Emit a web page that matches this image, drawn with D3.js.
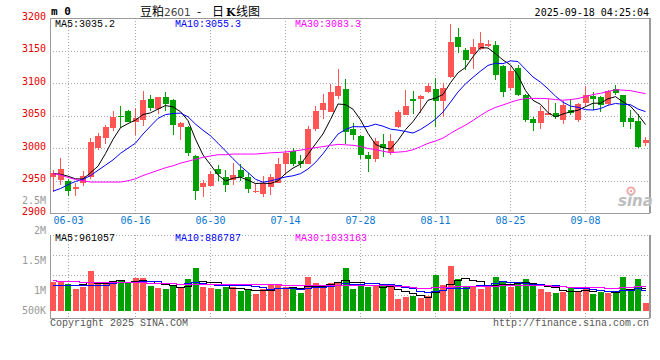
<!DOCTYPE html>
<html><head><meta charset="utf-8">
<script src="https://cdn.jsdelivr.net/npm/d3@7/dist/d3.min.js"></script>
<style>
html,body{margin:0;padding:0;background:#fff;}
svg{display:block;}
text{font-family:"DejaVu Sans Mono",monospace;font-size:10px;}
</style></head><body>
<svg id="chart" width="660" height="360"></svg>
<script>
// ---------------- DATA ----------------
const dates = ["05-29","05-30","06-03","06-04","06-05","06-06","06-09","06-10","06-11","06-12","06-13",
"06-16","06-17","06-18","06-19","06-20","06-23","06-24","06-25","06-26","06-27","06-30",
"07-01","07-02","07-03","07-04","07-07","07-08","07-09","07-10","07-11","07-14","07-15","07-16","07-17","07-18",
"07-21","07-22","07-23","07-24","07-25","07-28","07-29","07-30","07-31","08-01","08-04","08-05","08-06","08-07","08-08",
"08-11","08-12","08-13","08-14","08-15","08-18","08-19","08-20","08-21","08-22","08-25","08-26","08-27","08-28","08-29",
"09-01","09-02","09-03","09-04","09-05","09-08","09-09","09-10","09-11","09-12","09-15","09-16","09-17","09-18"];

const open = [2955,2951,2950,2938,2947,2956,3001,3015,3031,3050,3057,3040,3043,3075,3060,3078,3074,3032,3032,2988,
2940,2942,2968,2955,2951,2967,2955,2932,2930,2941,2947,2975,2996,2981,2976,3030,3059,3056,3080,3091,
3030,3018,2990,2983,3007,2992,3032,3051,3076,3076,3086,3091,3072,3110,3171,3151,3145,3153,3157,3159,
3127,3092,3123,3082,3045,3039,3051,3054,3044,3059,3043,3070,3080,3078,3068,3091,3081,3047,3042,3008];
const high = [2967,2985,2952,2946,2965,3016,3024,3036,3057,3065,3058,3061,3088,3082,3079,3087,3076,3040,3034,2989,
2951,2965,2974,2967,2978,2976,2962,2947,2957,2961,2985,2995,3001,2990,3034,3065,3083,3098,3122,3107,
3039,3021,2994,3016,3022,3022,3058,3090,3088,3081,3100,3108,3100,3191,3185,3154,3168,3179,3166,3164,
3128,3125,3128,3083,3048,3065,3075,3070,3073,3076,3069,3096,3087,3080,3090,3097,3082,3059,3052,3017];
const low = [2932,2944,2927,2926,2942,2953,2998,3006,3026,3031,3040,3020,3034,3057,3052,3057,3021,3012,2988,2920,
2925,2942,2950,2933,2943,2950,2931,2931,2925,2928,2946,2959,2972,2969,2975,3026,3045,3055,3076,3006,
3012,2983,2963,2979,2987,2990,3031,3051,3052,3054,3085,3033,3048,3108,3147,3120,3121,3151,3156,3104,
3078,3089,3080,3040,3026,3030,3051,3045,3037,3051,3041,3064,3059,3055,3067,3082,3032,3029,3000,3003];
const close = [2962,2968,2934,2940,2958,3010,3019,3032,3048,3048,3041,3046,3074,3061,3078,3068,3036,3038,2992,2935,
2947,2961,2960,2943,2959,2955,2938,2934,2947,2955,2976,2993,2976,2976,3030,3057,3070,3087,3096,3025,
3021,2989,2983,3011,3000,3011,3056,3065,3072,3080,3095,3073,3092,3163,3156,3136,3156,3161,3160,3113,
3087,3118,3081,3044,3038,3057,3054,3048,3067,3054,3068,3082,3075,3067,3088,3085,3041,3041,3002,3013];

const ma5 = [2961,2960,2957,2953,2952.6,2962.2,2972.4,2991.8,3013.5,3031.5,3037.8,3043.2,3051.7,3054.3,3060.1,3065.5,3063.5,3056.1,3042.4,3013.9,
2989.6,2974.6,2959.0,2949.3,2953.9,2955.5,2950.8,2945.7,2946.4,2945.6,2950.0,2961.0,2969.5,2975.4,2990.5,3006.5,3022.0,3044.1,3067.9,3066.9,
3059.9,3043.6,3022.8,3005.8,3000.8,2998.6,3012.0,3028.5,3040.9,3056.8,3073.7,3077.1,3082.4,3100.6,3115.9,3124.0,3140.6,3154.5,3153.9,3145.2,
3135.5,3127.8,3111.8,3088.5,3073.5,3067.4,3054.7,3048.0,3052.6,3055.9,3058.3,3063.8,3069.1,3069.1,3075.9,3079.2,3071.1,3064.5,3051.4,3036.4];
const ma10 = [2934,2938,2944,2949,2952,2958,2966,2974,2982,2992.1,3000.0,3007.8,3021.8,3033.9,3045.8,3051.6,3053.3,3053.9,3048.3,3037.0,
3027.6,3019.0,3007.6,2995.8,2983.9,2972.5,2962.7,2952.3,2947.8,2949.8,2952.7,2955.9,2957.6,2960.9,2968.0,2978.2,2991.5,3006.8,3021.7,3028.7,
3033.2,3032.8,3033.4,3036.9,3033.8,3029.3,3027.8,3025.7,3023.3,3028.8,3036.1,3044.6,3055.5,3070.7,3086.4,3098.9,3108.9,3118.4,3127.2,3130.5,
3129.8,3134.2,3133.1,3121.2,3109.4,3101.4,3091.2,3079.9,3070.6,3064.7,3062.8,3059.2,3058.6,3060.9,3065.9,3068.7,3067.4,3066.8,3060.2,3056.2];
const ma30 = [2961,2959,2955,2952,2950,2948,2948,2948,2948,2948,2950,2953,2958,2962,2966,2970,2973,2977,2980,2983,
2986,2988,2990,2990,2991,2991,2991,2991,2992,2992.9,2993.4,2994.2,2995.6,2996.9,2999.3,3000.8,3002.5,3004.3,3005.9,3005.2,
3004.5,3002.6,2999.5,2997.9,2995.3,2993.3,2994.0,2994.9,2997.6,3002.4,3007.4,3011.1,3015.5,3022.8,3029.4,3035.4,3042.7,3050.3,3057.4,3062.7,
3066.4,3070.5,3074.0,3076.3,3076.5,3076.5,3076.0,3074.7,3073.7,3074.7,3076.2,3079.3,3082.4,3084.3,3087.2,3089.7,3089.2,3088.4,3086.0,3083.8];

const volume = [1223000,1265000,1126000,917000,1001000,1668000,1154000,1112000,1251000,1293000,
1182000,1376000,1376000,1043000,959000,917000,1098000,945000,1334000,1807000,
1001000,959000,917000,1015000,987000,834000,917000,723000,904000,1084000,
1084000,1015000,917000,751000,1418000,1168000,1043000,1168000,1168000,1807000,
917000,1056000,987000,1043000,1084000,987000,500000,598000,639000,556000,
626000,1501000,1084000,1890000,1334000,1043000,1043000,917000,987000,1418000,
1251000,1015000,1126000,1334000,1126000,917000,800000,760000,800000,965000,
790000,1001000,715000,805000,765000,765000,1425000,910000,1334000,346000];
const volMa5 = [1090,1090,1100,1100,1106,1195,1173,1170,1237,1296,1198,1243,1296,1254,1187,1134,1079,992,1051,1220,
1237,1209,1204,1140,976,942,934,895,873,892,942,962,1001,970,1037,1054,1059,1110,1193,1271,
1221,1223,1187,1162,1017,1031,920,842,762,656,584,784,881,1131,1287,1370,1279,1245,1065,1082,
1123,1118,1159,1229,1170,1104,1061,987,881,848,823,863,854,855,815,810,895,934,1040,956].map(v => v * 1000);
const volMa10 = [1080,1080,1080,1080,1080,1080,1080,1090,1150,1201,1197,1208,1233,1246,1241,1166,1161,1144,1152,1204,
1186,1144,1098,1095,1098,1090,1072,1049,1006,934,942,948,948,922,965,998,1011,1055,1082,1154,
1137,1141,1148,1178,1144,1126,1072,1015,962,837,808,852,862,947,972,977,1031,1063,1098,1184,
1247,1198,1202,1147,1126,1113,1089,1073,1055,1009,963,962,921,868,832,817,879,894,948,886].map(v => v * 1000);
const volMa30 = [1300,1260,1240,1230,1225,1222,1220,1215,1210,1205,1200,1195,1190,1180,1170,1160,1150,1145,1140,1140,
1135,1130,1128,1125,1122,1120,1118,1116,1115,1113,1108,1100,1093,1087,1101,1085,1081,1083,1080,1097,
1088,1078,1065,1065,1069,1071,1051,1040,1017,975,962,980,986,1015,1027,1034,1038,1044,1047,1058,
1064,1064,1071,1090,1081,1072,1064,1050,1038,1010,1006,1004,995,987,976,969,1000,1010,1033,1026].map(v => v * 1000);

const dateTicks = ["06-03","06-16","06-30","07-14","07-28","08-11","08-25","09-08"];
const priceTicks = [3200,3150,3100,3050,3000,2950,2900];
const priceGrid = [3150,3100,3050,3000,2950];
const volTicks = [2500000,2000000,1500000,1000000,500000];
const volTickLabels = ["2.5M","2M","1.5M","1M","500K"];
const priceLegend = ["MA5:3035.2","MA10:3055.3","MA30:3083.3"];
const volLegend = ["MA5:961057","MA10:886787","MA30:1033163"];
const legendColors = ["#000000","#0000ff","#ff00ff"];

// ---------------- LAYOUT ----------------
const L = 50, R = 648.5;
const mainTop = 18, mainBot = 213.3;
const volTop = 235, volBot = 318, volZero = 311;
const UP = "#ff5555", DOWN = "#00a000";
const GRID = "#a8a8a8", BORDER = "#9a9a9a";

const svg = d3.select("#chart");
const n = dates.length;
const idx = d3.range(n);

const x = d3.scaleBand().domain(dates).range([L, R]).paddingInner(0.2).paddingOuter(0);
const bw = x.bandwidth();
const cx = i => Math.floor(x(dates[i]) + bw / 2) + 0.5;
const y = d3.scaleLinear().domain([2900, 3200]).range([mainBot, mainTop]);
const yv = d3.scaleLinear().domain([0, 1000000]).range([volZero, volZero - 24]);
const yvLabel = d3.scaleLinear().domain([1000000, 2500000]).range([294, 203.5]);

// ---------------- GRIDS ----------------
const grid = svg.append("g").attr("shape-rendering", "crispEdges")
  .attr("stroke", GRID).attr("stroke-dasharray", "1,2");
grid.selectAll("line.h").data(priceGrid).join("line")
  .attr("x1", L).attr("x2", R).attr("y1", d => Math.round(y(d)) + 0.5).attr("y2", d => Math.round(y(d)) + 0.5);
grid.selectAll("line.v").data(dateTicks).join("line")
  .attr("x1", d => cx(dates.indexOf(d))).attr("x2", d => cx(dates.indexOf(d)))
  .attr("y1", mainTop).attr("y2", mainBot);
grid.selectAll("line.vv").data(dateTicks).join("line")
  .attr("x1", d => cx(dates.indexOf(d))).attr("x2", d => cx(dates.indexOf(d)))
  .attr("y1", volTop).attr("y2", volBot);
grid.selectAll("line.hv").data([0, 1, 2, 3]).join("line")
  .attr("x1", L).attr("x2", R)
  .attr("y1", k => volTop + k * 20 + 0.5).attr("y2", k => volTop + k * 20 + 0.5);

// borders
const bd = svg.append("g").attr("shape-rendering", "crispEdges").attr("stroke", BORDER).attr("fill", "none");
bd.append("path").attr("d", `M${L + 0.5},${mainTop} V${mainBot + 0.5} H${R + 1} V${mainTop} H${L}`);
bd.append("path").attr("d", `M${L + 0.5},${volTop} V${volBot + 0.5} H${R + 1} V${volTop}`);
bd.append("line").attr("x1", R + 1).attr("x2", R + 1).attr("y1", mainTop).attr("y2", mainBot).attr("stroke-width", 2);
bd.append("line").attr("x1", R + 1).attr("x2", R + 1).attr("y1", volTop).attr("y2", volBot).attr("stroke-width", 2);

// ---------------- WATERMARK ----------------
const wm = svg.append("g");
wm.append("circle").attr("cx", 631).attr("cy", 191).attr("r", 3.6)
  .attr("fill", "none").attr("stroke", "#f4a8a8").attr("stroke-width", 2);
wm.append("circle").attr("cx", 631).attr("cy", 191).attr("r", 1).attr("fill", "#e88");
wm.append("text").attr("x", 618).attr("y", 206).text("sina")
  .style("font-family", "DejaVu Sans").style("font-size", "15px").style("font-style", "italic")
  .style("font-weight", "bold").attr("fill", "#bdbdbd");

// ---------------- CANDLES ----------------
const isUp = i => close[i] >= open[i];
const cg = svg.append("g").attr("shape-rendering", "crispEdges");
cg.selectAll("line.wick").data(idx).join("line")
  .attr("x1", cx).attr("x2", cx)
  .attr("y1", i => y(high[i])).attr("y2", i => y(low[i]))
  .attr("stroke", i => isUp(i) ? UP : DOWN);
cg.selectAll("rect.body").data(idx).join("rect")
  .attr("x", i => x(dates[i])).attr("width", bw)
  .attr("y", i => y(Math.max(open[i], close[i])))
  .attr("height", i => Math.max(1, Math.abs(y(open[i]) - y(close[i]))))
  .attr("fill", i => isUp(i) ? UP : DOWN);

// MA lines
const lineMain = arr => d3.line().x(i => x(dates[i]) + bw / 2).y(i => y(arr[i]))(idx);
[ma5, ma10, ma30].forEach((arr, k) => {
  svg.append("path").attr("d", lineMain(arr)).attr("fill", "none")
    .attr("stroke", legendColors[k]).attr("stroke-width", 1);
});

// ---------------- VOLUME ----------------
const vg = svg.append("g").attr("shape-rendering", "crispEdges");
vg.selectAll("rect").data(idx).join("rect")
  .attr("x", i => x(dates[i])).attr("width", bw)
  .attr("y", i => yv(volume[i])).attr("height", i => volZero - yv(volume[i]))
  .attr("fill", i => isUp(i) ? UP : DOWN);
const lineVol = arr => d3.line().curve(d3.curveStep).x(i => x(dates[i]) + bw / 2).y(i => Math.round(yv(arr[i])) + 0.5)(idx);
[volMa5, volMa10, volMa30].forEach((arr, k) => {
  svg.append("path").attr("d", lineVol(arr)).attr("fill", "none")
    .attr("stroke", legendColors[k]).attr("stroke-width", 1).attr("shape-rendering", "crispEdges");
});

// ---------------- TEXT ----------------
svg.append("g").selectAll("text").data(priceTicks).join("text")
  .attr("x", 46).attr("y", d => y(d) + 1.5).attr("text-anchor", "end")
  .attr("fill", "#e60000").text(d => d);
svg.append("g").selectAll("text").data(volTicks).join("text")
  .attr("x", 46).attr("y", d => Math.min(yvLabel(d), 314)).attr("text-anchor", "end")
  .attr("fill", "#9a9a9a").text((d, i) => volTickLabels[i]);
svg.append("g").selectAll("text").data(dateTicks).join("text")
  .attr("x", d => cx(dates.indexOf(d))).attr("y", 224.3).attr("text-anchor", "middle")
  .attr("fill", "#0a78d2").text(d => d);

svg.append("g").selectAll("text").data(priceLegend).join("text")
  .attr("x", (d, i) => 55 + i * 120).attr("y", 26.7).attr("fill", (d, i) => legendColors[i])
  .style("font-family", "Liberation Mono").text(d => d);
svg.append("g").selectAll("text").data(volLegend).join("text")
  .attr("x", (d, i) => 55 + i * 120).attr("y", 241).attr("fill", (d, i) => legendColors[i])
  .style("font-family", "Liberation Mono").text(d => d);

// header
svg.append("text").attr("x", 51).attr("y", 15).style("font-weight", "bold").style("font-size", "11px").text("m 0");
const cjk = "'Noto Sans CJK SC', sans-serif";
svg.append("text").attr("x", 140).attr("y", 15.5).style("font-family", cjk).style("font-size", "12px").text("豆粕");
svg.append("text").attr("x", 164).attr("y", 15.5).style("font-family", "DejaVu Sans").style("font-size", "10.5px").attr("fill", "#444").text("2601");
svg.append("text").attr("x", 197).attr("y", 15.5).style("font-family", cjk).style("font-size", "12px").text("-");
svg.append("text").attr("x", 212).attr("y", 15.5).style("font-family", cjk).style("font-size", "12px").text("日");
svg.append("text").attr("x", 226).attr("y", 15.5).style("font-family", "DejaVu Serif").style("font-weight", "bold").style("font-size", "11px").text("K");
svg.append("text").attr("x", 236).attr("y", 15.5).style("font-family", cjk).style("font-size", "12px").text("线图");
svg.append("text").attr("x", 649).attr("y", 16).attr("text-anchor", "end").text("2025-09-18 04:25:04");

// footer
svg.append("text").attr("x", 50).attr("y", 326).attr("fill", "#555").style("font-family", "Liberation Mono").text("Copyright 2025 SINA.COM");
svg.append("text").attr("x", 649).attr("y", 326).attr("text-anchor", "end").attr("fill", "#555").style("font-family", "Liberation Mono").text("http://finance.sina.com.cn");
</script>
</body></html>
